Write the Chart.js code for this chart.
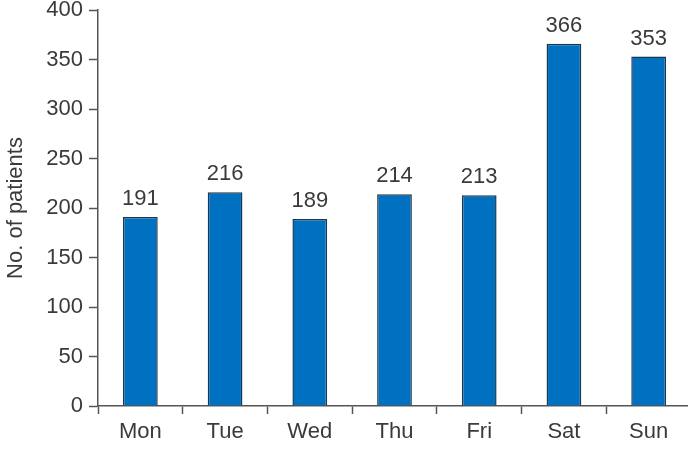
<!DOCTYPE html>
<html>
<head>
<meta charset="utf-8">
<script src="https://cdn.jsdelivr.net/npm/chart.js@4/dist/chart.umd.min.js"></script>
<style>
  html, body { margin: 0; padding: 0; background: #fff; overflow: hidden; }
  #wrap { width: 693px; height: 449px; }
</style>
</head>
<body>
<div id="wrap"><canvas id="chart" width="693" height="449"></canvas></div>
<script>
// data
const days = ['Mon', 'Tue', 'Wed', 'Thu', 'Fri', 'Sat', 'Sun'];
const patients = [191, 216, 189, 214, 213, 366, 353];
const yTicks = [0, 50, 100, 150, 200, 250, 300, 350, 400];

const textColor = '#3a3a3a';
const axisColor = '#555555';
const fontFamily = '"Liberation Sans", Arial, sans-serif';

// draws the number above each bar
const valueLabels = {
  id: 'valueLabels',
  afterDatasetsDraw(chart) {
    const ctx = chart.ctx;
    const meta = chart.getDatasetMeta(0);
    ctx.save();
    ctx.font = '22px ' + fontFamily;
    ctx.fillStyle = textColor;
    ctx.textAlign = 'center';
    ctx.textBaseline = 'alphabetic';
    meta.data.forEach((bar, i) => {
      ctx.fillText(String(patients[i]), bar.x, bar.y - 12);
    });
    ctx.restore();
  }
};

new Chart(document.getElementById('chart').getContext('2d'), {
  type: 'bar',
  data: {
    labels: days,
    datasets: [{
      data: patients,
      backgroundColor: '#0070c0',
      borderColor: '#1b3852',
      borderWidth: 1.5,
      barPercentage: 0.82,
      categoryPercentage: 0.5
    }]
  },
  options: {
    responsive: false,
    animation: false,
    layout: { padding: { top: 10, right: 2, bottom: 0, left: 0 } },
    plugins: {
      legend: { display: false },
      tooltip: { enabled: false }
    },
    scales: {
      x: {
        offset: true,
        grid: {
          offset: true,
          drawOnChartArea: false,
          tickLength: 8,
          color: axisColor,
          tickWidth: 1.5
        },
        border: { color: axisColor, width: 1.5 },
        ticks: {
          color: textColor,
          padding: 5,
          font: { family: fontFamily, size: 22 }
        },
        afterFit(scale) { scale.height = 43; }
      },
      y: {
        min: 0,
        max: 400,
        afterBuildTicks(scale) { scale.ticks = yTicks.map(v => ({ value: v })); },
        grid: {
          drawOnChartArea: false,
          tickLength: 9,
          color: axisColor,
          tickWidth: 1.5
        },
        border: { color: axisColor, width: 1.5 },
        ticks: {
          color: textColor,
          padding: 6,
          font: { family: fontFamily, size: 22 }
        },
        title: {
          display: true,
          text: 'No. of patients',
          color: textColor,
          padding: { top: 3, bottom: 0 },
          font: { family: fontFamily, size: 22 }
        },
        afterFit(scale) {
          scale.width = 98;
          scale.paddingTop = 0;
          scale.paddingBottom = 0;
        }
      }
    }
  },
  plugins: [valueLabels]
});
</script>
</body>
</html>
